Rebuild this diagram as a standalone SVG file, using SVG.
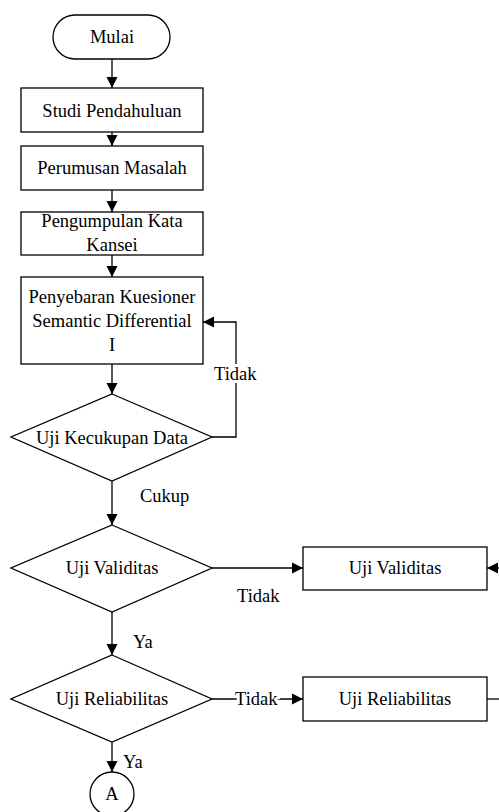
<svg xmlns="http://www.w3.org/2000/svg" width="499" height="812" viewBox="0 0 499 812">
<style>
.s{fill:#fff;stroke:#000;stroke-width:1.3}
.t{font-family:"Liberation Serif","Times New Roman",serif;font-size:18.5px;fill:#000;text-anchor:middle}
.l{font-family:"Liberation Serif","Times New Roman",serif;font-size:18.5px;fill:#000}
.h{stroke:#fff;stroke-width:6;paint-order:stroke}
.c{fill:none;stroke:#000;stroke-width:1.3}
</style>
<defs>
<marker id="ah" markerUnits="userSpaceOnUse" markerWidth="12" markerHeight="12" viewBox="0 0 12 12" refX="11" refY="6" orient="auto">
<path d="M0,0.5 L11,6 L0,11.5 Z" fill="#000"/>
</marker>
</defs>
<g id="connectors">
<line class="c" x1="112" y1="59" x2="112" y2="88" marker-end="url(#ah)"/>
<line class="c" x1="112" y1="132" x2="112" y2="146" marker-end="url(#ah)"/>
<line class="c" x1="112" y1="190" x2="112" y2="212" marker-end="url(#ah)"/>
<line class="c" x1="112" y1="255" x2="112" y2="277" marker-end="url(#ah)"/>
<line class="c" x1="112" y1="364" x2="112" y2="394" marker-end="url(#ah)"/>
<polyline class="c" points="212,437 236,437 236,322 203,322" marker-end="url(#ah)"/>
<line class="c" x1="112" y1="481" x2="112" y2="525" marker-end="url(#ah)"/>
<line class="c" x1="212" y1="568" x2="303" y2="568" marker-end="url(#ah)"/>
<line class="c" x1="499" y1="568" x2="487" y2="568" marker-end="url(#ah)"/>
<line class="c" x1="112" y1="612" x2="112" y2="655" marker-end="url(#ah)"/>
<line class="c" x1="212" y1="699" x2="303" y2="699" marker-end="url(#ah)"/>
<line class="c" x1="487" y1="699" x2="499" y2="699"/>
<line class="c" x1="112" y1="742" x2="112" y2="772" marker-end="url(#ah)"/>
<text class="l h" x="214" y="380">Tidak</text>
<text class="l" x="140" y="502">Cukup</text>
<text class="l" x="237" y="602">Tidak</text>
<text class="l" x="133" y="648">Ya</text>
<text class="l h" x="235" y="705">Tidak</text>
<text class="l" x="123" y="768">Ya</text>
</g>
<g id="mulai">
<rect class="s" x="53" y="15" width="117" height="44" rx="22"/>
<text class="t" x="112" y="43">Mulai</text>
</g>
<g id="studi">
<rect class="s" x="21" y="88" width="182" height="44"/>
<text class="t" x="112" y="117">Studi Pendahuluan</text>
</g>
<g id="perumusan">
<rect class="s" x="21" y="146" width="182" height="44"/>
<text class="t" x="112" y="174">Perumusan Masalah</text>
</g>
<g id="pengumpulan">
<rect class="s" x="21" y="212" width="182" height="43"/>
<text class="t" x="112" y="227">Pengumpulan Kata</text>
<text class="t" x="112" y="251">Kansei</text>
</g>
<g id="penyebaran">
<rect class="s" x="21" y="277" width="182" height="87"/>
<text class="t" x="112" y="303">Penyebaran Kuesioner</text>
<text class="t" x="112" y="327">Semantic Differential</text>
<text class="t" x="112" y="351">I</text>
</g>
<g id="kecukupan">
<polygon class="s" points="112,394 212,437 112,481 11,437"/>
<text class="t" x="112" y="444">Uji Kecukupan Data</text>
</g>
<g id="validitas-dec">
<polygon class="s" points="112,525 212,568 112,612 11,568"/>
<text class="t" x="112" y="574">Uji Validitas</text>
</g>
<g id="validitas-box">
<rect class="s" x="303" y="547" width="184" height="43"/>
<text class="t" x="395" y="574">Uji Validitas</text>
</g>
<g id="reliabilitas-dec">
<polygon class="s" points="112,655 212,699 112,742 11,699"/>
<text class="t" x="112" y="705">Uji Reliabilitas</text>
</g>
<g id="reliabilitas-box">
<rect class="s" x="303" y="677" width="184" height="44"/>
<text class="t" x="395" y="705">Uji Reliabilitas</text>
</g>
<g id="A">
<circle class="s" cx="112" cy="794" r="22"/>
<text class="t" x="112" y="800">A</text>
</g>
</svg>
